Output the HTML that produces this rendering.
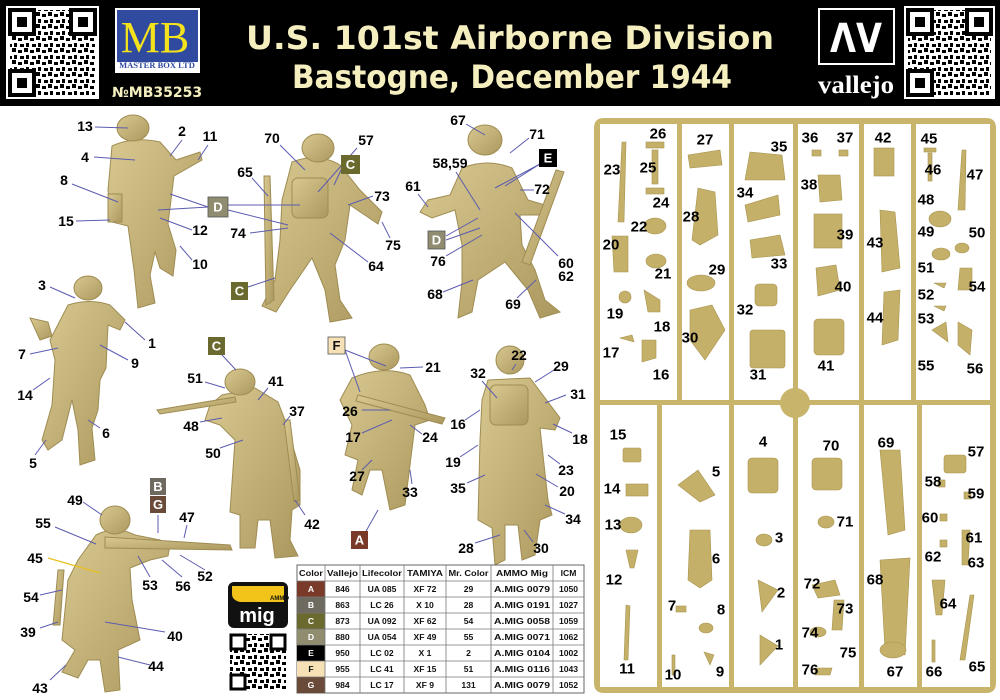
<!DOCTYPE html>
<html><head><meta charset="utf-8"><style>
html,body{margin:0;padding:0;background:#fff}
svg{display:block}
.l{font-family:"Liberation Sans Narrow","Liberation Sans",sans-serif;font-weight:bold;font-size:14px;fill:#000;text-anchor:middle;dominant-baseline:central}
.s{font-family:"Liberation Sans Narrow","Liberation Sans",sans-serif;font-weight:bold;font-size:15px;fill:#000;text-anchor:middle;dominant-baseline:central}
.ln{stroke:#5b5bb0;stroke-width:1;fill:none}
.f{fill:url(#g);stroke:#9e8c52;stroke-width:1}
.sp{fill:#c9b46b}
.pt{fill:#c4b068;stroke:#a8944e;stroke-width:.6}
.bx{font-family:"Liberation Sans",sans-serif;font-weight:bold;font-size:13px;fill:#fff;text-anchor:middle;dominant-baseline:central}
.t{font-family:"Liberation Sans",sans-serif;font-weight:bold;font-size:8.6px;fill:#111;text-anchor:middle;dominant-baseline:central}
</style></head><body>
<svg width="1000" height="700" viewBox="0 0 1000 700" xmlns="http://www.w3.org/2000/svg">
<defs>
<linearGradient id="g" x1="0" y1="0" x2="1" y2="1"><stop offset="0" stop-color="#d8c890"/><stop offset="1" stop-color="#ab985e"/></linearGradient>
<pattern id="qr" width="12" height="12" patternUnits="userSpaceOnUse">
<rect width="12" height="12" fill="#fff"/>
<rect x="0" y="0" width="4" height="4" fill="#000"/><rect x="6" y="2" width="4" height="3" fill="#000"/><rect x="2" y="7" width="3" height="4" fill="#000"/><rect x="8" y="8" width="4" height="3" fill="#000"/>
</pattern>
</defs>
<!-- header -->
<rect x="0" y="0" width="1000" height="106" fill="#000"/>
<g>
<rect x="6" y="6" width="93" height="93" fill="#fff"/>
<rect x="10" y="10" width="85" height="85" fill="url(#qr)"/>
<rect x="10" y="10" width="24" height="24" fill="#fff" stroke="#000" stroke-width="4"/><rect x="17" y="17" width="10" height="10" fill="#000"/>
<rect x="71" y="10" width="24" height="24" fill="#fff" stroke="#000" stroke-width="4"/><rect x="78" y="17" width="10" height="10" fill="#000"/>
<rect x="10" y="71" width="24" height="24" fill="#fff" stroke="#000" stroke-width="4"/><rect x="17" y="78" width="10" height="10" fill="#000"/>
</g>
<rect x="115" y="8" width="85" height="65" fill="#fff"/>
<rect x="117" y="10" width="81" height="52" fill="#2f4a9e"/>
<text x="155" y="52" font-family="Liberation Serif,serif" font-size="44" fill="#f4e21c" text-anchor="middle">MB</text>
<text x="157" y="68" font-family="Liberation Serif,serif" font-size="8.5" font-weight="bold" fill="#2f4a9e" text-anchor="middle">MASTER BOX LTD</text>
<text x="157" y="97" font-family="DejaVu Sans,sans-serif" font-weight="bold" font-size="14" fill="#f5efc0" text-anchor="middle">№MB35253</text>
<text x="510" y="49" font-family="DejaVu Sans,sans-serif" font-weight="bold" font-size="32" fill="#f5efc0" text-anchor="middle" textLength="528" lengthAdjust="spacingAndGlyphs">U.S. 101st Airborne Division</text>
<text x="512" y="88" font-family="DejaVu Sans,sans-serif" font-weight="bold" font-size="32" fill="#f5efc0" text-anchor="middle" textLength="440" lengthAdjust="spacingAndGlyphs">Bastogne, December 1944</text>
<rect x="819" y="9" width="75" height="55" fill="#000" stroke="#fff" stroke-width="2"/>
<text x="856" y="52" font-family="DejaVu Sans,sans-serif" font-weight="bold" font-size="40" fill="#fff" text-anchor="middle" textLength="52" lengthAdjust="spacingAndGlyphs">ΛV</text>
<text x="856" y="93" font-family="Liberation Serif,serif" font-weight="bold" font-size="25" fill="#fff" text-anchor="middle" textLength="76" lengthAdjust="spacingAndGlyphs">vallejo</text>
<g>
<rect x="904" y="6" width="91" height="93" fill="#fff"/>
<rect x="908" y="10" width="83" height="85" fill="url(#qr)"/>
<rect x="908" y="10" width="24" height="24" fill="#fff" stroke="#000" stroke-width="4"/><rect x="915" y="17" width="10" height="10" fill="#000"/>
<rect x="967" y="10" width="24" height="24" fill="#fff" stroke="#000" stroke-width="4"/><rect x="974" y="17" width="10" height="10" fill="#000"/>
<rect x="908" y="71" width="24" height="24" fill="#fff" stroke="#000" stroke-width="4"/><rect x="915" y="78" width="10" height="10" fill="#000"/>
</g>

<!-- FIGURE 1 -->
<path class="f" d="M112,146 Q133,136 160,142 L176,160 L200,152 L202,160 L174,176 L168,224 L176,250 L173,276 L160,268 L155,252 L150,275 L155,303 L138,308 L134,270 L128,226 L112,222 L108,190 Z"/>
<ellipse class="f" cx="133" cy="128" rx="16" ry="13"/>
<rect class="f" x="108" y="194" width="14" height="28"/>
<!-- FIGURE 2 -->
<path class="f" d="M292,162 Q318,152 340,165 L360,190 L382,212 L378,224 L350,205 L345,240 L335,265 L340,300 L352,318 L330,322 L325,290 L312,258 L290,290 L276,312 L262,306 L275,280 L280,240 L282,200 Z"/>
<ellipse class="f" cx="318" cy="148" rx="16" ry="14"/>
<path class="f" d="M264,176 L270,176 L274,300 L266,305 Z"/>
<rect class="f" x="292" y="178" width="36" height="40" rx="6"/>
<!-- FIGURE 3 -->
<path class="f" d="M462,168 Q488,158 512,168 L528,200 L545,205 L545,215 L520,215 L522,245 L535,270 L545,300 L560,312 L540,318 L528,290 L505,262 L478,280 L472,312 L458,318 L462,282 L462,245 L455,210 L432,218 L420,212 L428,200 L450,195 Z"/>
<ellipse class="f" cx="485" cy="140" rx="17" ry="15"/>
<path class="f" d="M556,170 L564,172 L530,265 L522,262 Z"/>
<!-- FIGURE 4 -->
<path class="f" d="M68,305 Q90,298 110,305 L125,320 L120,330 L108,325 L106,368 L100,380 L98,410 L92,428 L95,460 L80,465 L78,430 L72,400 L62,440 L48,450 L42,440 L52,405 L55,360 L50,340 Z"/>
<ellipse class="f" cx="88" cy="288" rx="14" ry="12"/>
<path class="f" d="M30,318 L48,322 L52,336 L40,340 Z"/>
<!-- FIGURE 5 -->
<path class="f" d="M222,395 L255,388 L278,402 L285,420 L300,470 L300,505 L292,510 L290,540 L298,556 L275,558 L270,520 L258,520 L255,548 L240,548 L240,515 L230,512 L235,440 L220,425 L205,420 L210,405 Z"/>
<ellipse class="f" cx="240" cy="382" rx="15" ry="13"/>
<path class="f" d="M157,410 L235,397 L236,402 L160,414 Z"/>
<path class="f" d="M284,420 L290,420 L300,500 L294,502 Z"/>
<!-- FIGURE 6 -->
<path class="f" d="M352,378 Q383,365 410,375 L425,405 L430,420 L415,425 L410,465 L405,505 L390,510 L382,470 L370,470 L362,495 L352,490 L358,460 L345,455 L352,425 L340,400 Z"/>
<ellipse class="f" cx="384" cy="357" rx="15" ry="13"/>
<path class="f" d="M358,395 L445,418 L442,424 L356,401 Z"/>
<!-- FIGURE 7 -->
<path class="f" d="M488,380 L530,378 L560,418 L555,430 L540,428 L548,500 L552,515 L540,520 L535,555 L522,560 L518,525 L505,525 L505,560 L495,565 L492,528 L478,520 L480,440 L482,400 Z"/>
<ellipse class="f" cx="510" cy="360" rx="14" ry="14"/>
<rect class="f" x="490" y="385" width="38" height="40" rx="6"/>
<!-- FIGURE 8 -->
<path class="f" d="M96,535 Q115,525 135,535 L160,540 L170,545 L168,556 L150,560 L130,568 L132,600 L140,640 L118,650 L120,690 L105,692 L100,660 L88,660 L78,678 L62,672 L75,650 L62,640 L68,580 L78,560 Z"/>
<ellipse class="f" cx="115" cy="520" rx="15" ry="14"/>
<path class="f" d="M105,537 L230,545 L232,550 L105,548 Z"/>
<path class="f" d="M58,570 L64,570 L60,625 L53,625 Z"/>

<!-- leader lines -->
<g class="ln">
<path d="M95,127 L128,128"/><path d="M182,140 L170,156"/><path d="M208,145 L198,160"/><path d="M94,157 L135,160"/><path d="M72,184 L118,202"/><path d="M76,221 L110,220"/>
<path d="M208,207 L170,194"/><path d="M208,207 L158,210"/><path d="M228,210 L288,225"/><path d="M228,205 L300,205"/>
<path d="M192,230 L160,218"/><path d="M192,260 L180,246"/>
<path d="M280,145 L305,170"/><path d="M357,148 L318,192"/><path d="M342,168 L334,185"/><path d="M252,178 L268,196"/><path d="M373,196 L348,205"/><path d="M250,233 L288,228"/><path d="M390,238 L382,222"/><path d="M368,262 L330,233"/><path d="M248,287 L275,278"/>
<path d="M466,124 L485,135"/><path d="M529,138 L510,153"/><path d="M540,164 L495,188"/><path d="M540,164 L505,186"/><path d="M456,172 L480,210"/><path d="M418,194 L428,207"/><path d="M534,190 L520,190"/><path d="M446,236 L478,218"/><path d="M446,240 L480,228"/><path d="M446,256 L482,235"/><path d="M558,256 L515,213"/><path d="M443,292 L473,280"/><path d="M517,298 L536,280"/>
<path d="M50,287 L75,298"/><path d="M145,340 L125,322"/><path d="M30,354 L58,348"/><path d="M128,360 L100,345"/><path d="M33,390 L50,378"/><path d="M100,428 L88,420"/><path d="M35,455 L46,440"/>
<path d="M222,355 L236,370"/><path d="M205,382 L225,388"/><path d="M268,388 L258,400"/><path d="M290,416 L283,425"/><path d="M200,422 L222,418"/><path d="M220,448 L243,440"/><path d="M305,515 L295,500"/>
<path d="M345,350 L386,366"/><path d="M345,350 L360,392"/><path d="M423,367 L400,368"/><path d="M362,410 L390,410"/><path d="M362,433 L392,420"/><path d="M422,434 L410,425"/><path d="M362,470 L372,460"/><path d="M412,484 L410,470"/><path d="M365,533 L378,510"/>
<path d="M482,381 L497,398"/><path d="M516,364 L512,370"/><path d="M554,370 L535,382"/><path d="M566,395 L545,403"/><path d="M572,433 L553,424"/><path d="M465,420 L480,410"/><path d="M560,464 L548,455"/><path d="M460,457 L478,445"/><path d="M558,487 L536,474"/><path d="M467,483 L485,475"/><path d="M565,514 L545,505"/><path d="M475,543 L500,535"/><path d="M533,542 L524,530"/>
<path d="M158,515 L158,533"/><path d="M83,502 L102,515"/><path d="M187,525 L184,538"/><path d="M55,527 L96,544"/><path d="M205,570 L180,555"/><path d="M150,577 L138,556"/><path d="M182,577 L162,560"/><path d="M40,595 L62,590"/><path d="M40,628 L58,622"/><path d="M165,632 L105,622"/><path d="M50,680 L66,665"/><path d="M150,665 L118,657"/>
</g>
<path d="M48,558 L100,573" stroke="#e8c020" stroke-width="1.2"/>

<g class="l">
<text x="85" y="126">13</text><text x="182" y="131">2</text><text x="210" y="136">11</text><text x="85" y="157">4</text><text x="64" y="180">8</text><text x="66" y="221">15</text><text x="200" y="230">12</text><text x="200" y="264">10</text>
<text x="272" y="138">70</text><text x="366" y="140">57</text><text x="245" y="172">65</text><text x="382" y="196">73</text><text x="238" y="233">74</text><text x="393" y="245">75</text><text x="376" y="266">64</text>
<text x="458" y="120">67</text><text x="537" y="134">71</text><text x="450" y="163">58,59</text><text x="413" y="186">61</text><text x="542" y="189">72</text><text x="438" y="261">76</text><text x="566" y="263">60</text><text x="566" y="276">62</text><text x="435" y="294">68</text><text x="513" y="304">69</text>
<text x="42" y="285">3</text><text x="152" y="343">1</text><text x="22" y="354">7</text><text x="135" y="363">9</text><text x="25" y="395">14</text><text x="106" y="433">6</text><text x="33" y="463">5</text>
<text x="195" y="378">51</text><text x="276" y="381">41</text><text x="297" y="411">37</text><text x="191" y="426">48</text><text x="213" y="453">50</text><text x="312" y="524">42</text>
<text x="433" y="367">21</text><text x="350" y="411">26</text><text x="353" y="437">17</text><text x="430" y="437">24</text><text x="357" y="476">27</text><text x="410" y="492">33</text>
<text x="478" y="373">32</text><text x="519" y="355">22</text><text x="561" y="366">29</text><text x="578" y="394">31</text><text x="580" y="439">18</text><text x="458" y="424">16</text><text x="566" y="470">23</text><text x="453" y="462">19</text><text x="567" y="491">20</text><text x="458" y="488">35</text><text x="573" y="519">34</text><text x="466" y="548">28</text><text x="541" y="548">30</text>
<text x="75" y="500">49</text><text x="187" y="517">47</text><text x="43" y="523">55</text><text x="35" y="558">45</text><text x="205" y="576">52</text><text x="150" y="585">53</text><text x="183" y="586">56</text><text x="31" y="597">54</text><text x="28" y="632">39</text><text x="175" y="636">40</text><text x="40" y="688">43</text><text x="156" y="666">44</text>
</g>
<rect x="208" y="197" width="20" height="20" fill="#8f8c70" stroke="#555" stroke-width=".8"/><text class="bx" x="218" y="207">D</text>
<rect x="341" y="155" width="19" height="19" fill="#6b6a2e"/><text class="bx" x="350.5" y="164.5">C</text>
<rect x="231" y="282" width="17" height="18" fill="#6b6a2e"/><text class="bx" x="239.5" y="291">C</text>
<rect x="539" y="149" width="18" height="18" fill="#000"/><text class="bx" x="548" y="158">E</text>
<rect x="428" y="231" width="17" height="18" fill="#8f8c70" stroke="#555" stroke-width=".8"/><text class="bx" x="436.5" y="240">D</text>
<rect x="208" y="337" width="17" height="18" fill="#6b6a2e"/><text class="bx" x="216.5" y="346">C</text>
<rect x="328" y="337" width="17" height="17" fill="#f5e1b5" stroke="#555" stroke-width=".8"/><text class="bx" x="336.5" y="345.5" style="fill:#111">F</text>
<rect x="351" y="531" width="17" height="18" fill="#7a3a2a"/><text class="bx" x="359.5" y="540">A</text>
<rect x="150" y="478" width="16" height="17" fill="#6e6a60"/><text class="bx" x="158" y="486.5">B</text>
<rect x="150" y="496" width="16" height="17" fill="#6a4a38"/><text class="bx" x="158" y="504.5">G</text>

<rect x="228" y="582" width="60" height="46" rx="6" fill="#111"/>
<path d="M232,586 L284,586 L284,602 L240,602 Q232,600 232,594 Z" fill="#f2c318"/>
<text x="270" y="600" font-family="Liberation Sans,sans-serif" font-size="6" font-weight="bold" fill="#111">AMMO</text>
<text x="257" y="622" font-family="Liberation Sans,sans-serif" font-size="20" font-weight="bold" fill="#fff" text-anchor="middle">mig</text>
<g>
<rect x="228" y="632" width="60" height="60" fill="#fff"/>
<rect x="230" y="634" width="56" height="56" fill="url(#qr)"/>
<rect x="231" y="635" width="14" height="14" fill="#fff" stroke="#000" stroke-width="3"/>
<rect x="271" y="635" width="14" height="14" fill="#fff" stroke="#000" stroke-width="3"/>
<rect x="231" y="675" width="14" height="14" fill="#fff" stroke="#000" stroke-width="3"/>
</g>

<g>
<rect x="297" y="565" width="287" height="128" fill="#fff" stroke="#666" stroke-width="1"/>
<rect x="297" y="581" width="28" height="16" fill="#7a3a2a"/>
<rect x="297" y="597" width="28" height="16" fill="#6e6a60"/>
<rect x="297" y="613" width="28" height="16" fill="#6b6a2e"/>
<rect x="297" y="629" width="28" height="16" fill="#8f8c70"/>
<rect x="297" y="645" width="28" height="16" fill="#000"/>
<rect x="297" y="661" width="28" height="16" fill="#f5e1b5"/>
<rect x="297" y="677" width="28" height="16" fill="#6a4a38"/>
<g stroke="#777" stroke-width=".8">
<path d="M297,581H584M297,597H584M297,613H584M297,629H584M297,645H584M297,661H584M297,677H584"/>
<path d="M325,565V693M360,565V693M404,565V693M446,565V693M491,565V693M553,565V693"/>
</g>
<g class="t">
<text x="311" y="573" textLength="24" lengthAdjust="spacingAndGlyphs">Color</text><text x="342.5" y="573" textLength="31" lengthAdjust="spacingAndGlyphs">Vallejo</text><text x="382" y="573" textLength="40" lengthAdjust="spacingAndGlyphs">Lifecolor</text><text x="425" y="573" textLength="36" lengthAdjust="spacingAndGlyphs">TAMIYA</text><text x="468.5" y="573" textLength="40" lengthAdjust="spacingAndGlyphs">Mr. Color</text><text x="522" y="573" textLength="52" lengthAdjust="spacingAndGlyphs">AMMO Mig</text><text x="568.5" y="573">ICM</text>
<text x="311" y="589" style="fill:#fff">A</text><text x="342.5" y="589">846</text><text x="382" y="589">UA 085</text><text x="425" y="589">XF 72</text><text x="468.5" y="589">29</text><text x="522" y="589" textLength="56" lengthAdjust="spacingAndGlyphs">A.MIG 0079</text><text x="568.5" y="589">1050</text>
<text x="311" y="605" style="fill:#fff">B</text><text x="342.5" y="605">863</text><text x="382" y="605">LC 26</text><text x="425" y="605">X 10</text><text x="468.5" y="605">28</text><text x="522" y="605" textLength="56" lengthAdjust="spacingAndGlyphs">A.MIG 0191</text><text x="568.5" y="605">1027</text>
<text x="311" y="621" style="fill:#fff">C</text><text x="342.5" y="621">873</text><text x="382" y="621">UA 092</text><text x="425" y="621">XF 62</text><text x="468.5" y="621">54</text><text x="522" y="621" textLength="56" lengthAdjust="spacingAndGlyphs">A.MIG 0058</text><text x="568.5" y="621">1059</text>
<text x="311" y="637" style="fill:#fff">D</text><text x="342.5" y="637">880</text><text x="382" y="637">UA 054</text><text x="425" y="637">XF 49</text><text x="468.5" y="637">55</text><text x="522" y="637" textLength="56" lengthAdjust="spacingAndGlyphs">A.MIG 0071</text><text x="568.5" y="637">1062</text>
<text x="311" y="653" style="fill:#fff">E</text><text x="342.5" y="653">950</text><text x="382" y="653">LC 02</text><text x="425" y="653">X 1</text><text x="468.5" y="653">2</text><text x="522" y="653" textLength="56" lengthAdjust="spacingAndGlyphs">A.MIG 0104</text><text x="568.5" y="653">1002</text>
<text x="311" y="669">F</text><text x="342.5" y="669">955</text><text x="382" y="669">LC 41</text><text x="425" y="669">XF 15</text><text x="468.5" y="669">51</text><text x="522" y="669" textLength="56" lengthAdjust="spacingAndGlyphs">A.MIG 0116</text><text x="568.5" y="669">1043</text>
<text x="311" y="685" style="fill:#fff">G</text><text x="342.5" y="685">984</text><text x="382" y="685">LC 17</text><text x="425" y="685">XF 9</text><text x="468.5" y="685">131</text><text x="522" y="685" textLength="56" lengthAdjust="spacingAndGlyphs">A.MIG 0079</text><text x="568.5" y="685">1052</text>
</g>
</g>

<g class="sp">
<path d="M604,118 H986 Q996,118 996,128 V683 Q996,693 986,693 H604 Q594,693 594,683 V128 Q594,118 604,118 Z M600,124 V687 H990 V124 Z" fill-rule="evenodd"/>
<rect x="594" y="400" width="402" height="5"/>
<rect x="677" y="118" width="5" height="284"/><rect x="729" y="118" width="5" height="284"/><rect x="793" y="118" width="5" height="575"/><rect x="859" y="118" width="5" height="284"/><rect x="911" y="118" width="5" height="284"/>
<rect x="657" y="403" width="5" height="290"/><rect x="729" y="403" width="5" height="290"/><rect x="859" y="403" width="5" height="290"/><rect x="917" y="403" width="5" height="290"/>
<circle cx="795" cy="403" r="15"/>
</g>
<g class="pt">
<path d="M622,142 L626,142 L624,222 L618,222 Z"/><rect x="646" y="142" width="18" height="6"/><rect x="646" y="188" width="18" height="6"/><rect x="652" y="150" width="6" height="34"/>
<ellipse cx="655" cy="226" rx="11" ry="8"/><path d="M612,236 L628,236 L628,272 L614,272 Z"/><ellipse cx="656" cy="261" rx="10" ry="7"/><circle cx="625" cy="297" r="6"/><path d="M644,290 L660,300 L660,312 L648,312 Z"/><path d="M620,338 L632,335 L634,342 Z"/><path d="M642,340 L656,340 L656,358 L642,362 Z"/>
<path d="M688,155 L720,150 L722,165 L690,168 Z"/><path d="M698,188 L715,192 L718,235 L700,245 L692,240 Z"/><ellipse cx="701" cy="283" rx="14" ry="8"/><path d="M690,310 L712,305 L725,330 L705,360 L690,340 Z"/>
<path d="M750,152 L782,155 L785,180 L745,180 Z"/><path d="M745,205 L778,195 L780,215 L748,222 Z"/><path d="M750,240 L780,235 L785,255 L752,258 Z"/><rect x="755" y="284" width="22" height="22" rx="4"/><rect x="750" y="330" width="35" height="38" rx="3"/>
<rect x="812" y="150" width="9" height="6"/><rect x="839" y="150" width="9" height="6"/><path d="M818,175 L840,175 L842,200 L820,202 Z"/><rect x="814" y="214" width="28" height="34"/><path d="M816,268 L836,265 L840,290 L818,296 Z"/><rect x="814" y="319" width="30" height="36" rx="4"/>
<rect x="874" y="148" width="20" height="28"/><path d="M880,210 L895,212 L900,268 L882,272 Z"/><path d="M884,292 L900,290 L898,340 L882,345 Z"/>
<rect x="924" y="148" width="12" height="4"/><rect x="928" y="153" width="4" height="28"/><path d="M962,150 L966,150 L965,210 L958,210 Z"/><ellipse cx="940" cy="219" rx="11" ry="8"/><ellipse cx="941" cy="254" rx="9" ry="6"/><ellipse cx="962" cy="248" rx="7" ry="5"/><path d="M960,268 L972,268 L972,290 L958,290 Z"/><path d="M934,283 L946,283 L944,288 Z"/><path d="M934,306 L946,306 L944,311 Z"/><path d="M932,330 L946,322 L948,342 Z"/><path d="M958,322 L972,330 L970,355 L958,345 Z"/>
<rect x="623" y="448" width="18" height="14" rx="2"/><rect x="626" y="484" width="22" height="12"/><ellipse cx="631" cy="525" rx="11" ry="8"/><path d="M626,550 L638,550 L634,568 L630,568 Z"/><path d="M626,605 L630,606 L628,660 L624,660 Z"/>
<rect x="676" y="606" width="10" height="6"/><rect x="672" y="655" width="3" height="20"/><ellipse cx="706" cy="628" rx="7" ry="5"/><path d="M704,652 L714,655 L710,665 Z"/>
<path d="M678,485 L698,470 L715,495 L700,502 Z"/><path d="M690,530 L710,530 L712,580 L700,588 L688,580 Z"/>
<rect x="748" y="458" width="30" height="35" rx="4"/><ellipse cx="764" cy="540" rx="8" ry="6"/><path d="M758,580 L778,590 L762,612 Z"/><path d="M760,635 L778,646 L760,665 Z"/>
<rect x="812" y="458" width="30" height="32" rx="4"/><ellipse cx="826" cy="522" rx="8" ry="6"/><path d="M812,585 L835,580 L840,595 L818,598 Z"/><path d="M834,600 L844,600 L842,630 L832,630 Z"/><ellipse cx="818" cy="632" rx="8" ry="5"/><path d="M815,668 L832,668 L830,675 L815,675 Z"/>
<path d="M880,450 L900,450 L905,530 L888,535 Z"/><path d="M880,560 L910,558 L905,655 L885,650 Z"/><ellipse cx="893" cy="650" rx="13" ry="8"/>
<rect x="944" y="455" width="22" height="18" rx="3"/><rect x="938" y="480" width="7" height="7"/><rect x="964" y="492" width="7" height="7"/><rect x="940" y="514" width="7" height="7"/><rect x="940" y="540" width="7" height="7"/><path d="M962,530 L970,530 L968,565 L962,565 Z"/><path d="M932,580 L945,580 L942,615 L936,615 Z"/><path d="M970,595 L974,595 L965,660 L960,660 Z"/><rect x="932" y="640" width="3" height="22"/>
</g>
<g class="s">
<text x="658" y="134">26</text><text x="612" y="170">23</text><text x="648" y="168">25</text><text x="661" y="203">24</text><text x="639" y="227">22</text><text x="611" y="245">20</text><text x="663" y="274">21</text><text x="615" y="314">19</text><text x="662" y="327">18</text><text x="611" y="353">17</text><text x="661" y="375">16</text>
<text x="705" y="140">27</text><text x="691" y="217">28</text><text x="717" y="270">29</text><text x="690" y="338">30</text>
<text x="779" y="147">35</text><text x="745" y="193">34</text><text x="779" y="264">33</text><text x="745" y="310">32</text><text x="758" y="375">31</text>
<text x="810" y="138">36</text><text x="845" y="138">37</text><text x="809" y="185">38</text><text x="845" y="235">39</text><text x="843" y="287">40</text><text x="826" y="366">41</text>
<text x="883" y="138">42</text><text x="875" y="243">43</text><text x="875" y="318">44</text>
<text x="929" y="139">45</text><text x="933" y="170">46</text><text x="975" y="175">47</text><text x="926" y="200">48</text><text x="926" y="232">49</text><text x="977" y="233">50</text><text x="926" y="268">51</text><text x="926" y="295">52</text><text x="926" y="319">53</text><text x="977" y="287">54</text><text x="926" y="366">55</text><text x="975" y="369">56</text>
<text x="618" y="435">15</text><text x="612" y="489">14</text><text x="613" y="525">13</text><text x="614" y="580">12</text><text x="627" y="669">11</text><text x="672" y="606">7</text><text x="673" y="675">10</text><text x="721" y="610">8</text><text x="720" y="672">9</text><text x="716" y="472">5</text><text x="716" y="559">6</text>
<text x="763" y="442">4</text><text x="831" y="446">70</text><text x="779" y="538">3</text><text x="845" y="522">71</text><text x="781" y="593">2</text><text x="812" y="584">72</text><text x="845" y="609">73</text><text x="779" y="645">1</text><text x="810" y="633">74</text><text x="848" y="653">75</text><text x="810" y="670">76</text>
<text x="886" y="443">69</text><text x="875" y="580">68</text><text x="895" y="672">67</text>
<text x="976" y="452">57</text><text x="933" y="482">58</text><text x="976" y="494">59</text><text x="930" y="518">60</text><text x="974" y="538">61</text><text x="933" y="557">62</text><text x="976" y="563">63</text><text x="948" y="604">64</text><text x="977" y="667">65</text><text x="934" y="672">66</text>
</g>
</svg>
</body></html>
